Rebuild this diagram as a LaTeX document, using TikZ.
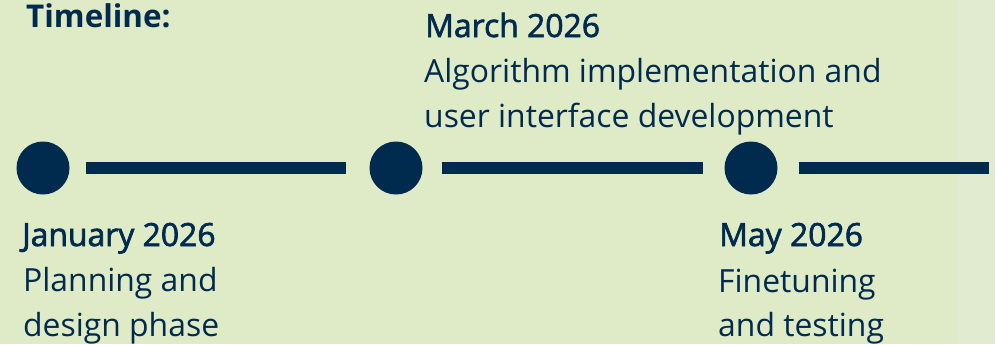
\documentclass[tikz,border=0pt]{standalone}
\usepackage{fontspec}
\setmainfont{Open Sans}
\newfontfamily\headfont{Open Sans}[FakeBold=2]
\definecolor{navy}{HTML}{002A4E}
\definecolor{bgA}{HTML}{DFEAC6}
\definecolor{bgB}{HTML}{E1EBCF}
\tikzset{
  dot/.style={circle,fill=navy,minimum size=53bp,inner sep=0pt},
  bar/.style={draw=navy,line width=12bp},
  head/.style={anchor=base west,inner sep=0pt,text=navy,font=\fontsize{32}{45}\selectfont\headfont},
  body/.style={anchor=base west,inner sep=0pt,text=navy,font=\fontsize{32}{45}\selectfont},
}
\begin{document}
\begin{tikzpicture}[x=1bp,y=-1bp]
\fill[bgA] (0,0) rectangle (995,344);
\fill[bgB] (957,0) rectangle (995,344);
\useasboundingbox (0,0) rectangle (995,344);
\node[anchor=base west,inner sep=0pt,text=navy,font=\fontsize{31.5}{40}\selectfont\bfseries] (title) at (26,27) {Timeline:};
\node[dot] (c1) at (43,168) {};
\node[dot] (c2) at (396,168) {};
\node[dot] (c3) at (751,168) {};
\coordinate (end) at (989,168);
\draw[bar,shorten <=16bp,shorten >=23bp] (c1) -- (c2);
\draw[bar,shorten <=19bp,shorten >=21bp] (c2) -- (c3);
\draw[bar,shorten <=21bp] (c3) -- (end);
\node[head] (mar) at (425,37) {March 2026};
\node[body] (mard1) at (424,82.7) {Algorithm implementation and};
\node[body] (mard2) at (424,127.5) {user interface development};
\node[head] (jan) at (22,246) {January 2026};
\node[body] (jand1) at (23,291.7) {Planning and};
\node[body] (jand2) at (23,336.5) {design phase};
\node[head] (may) at (719,246) {May 2026};
\node[body] (mayd1) at (718,292) {Finetuning};
\node[body] (mayd2) at (718,336.8) {and testing};
\end{tikzpicture}
\end{document}
